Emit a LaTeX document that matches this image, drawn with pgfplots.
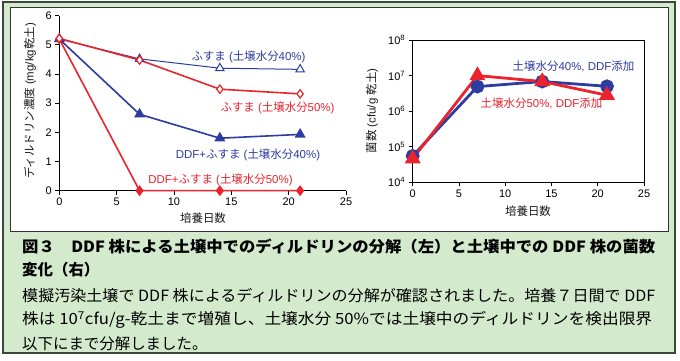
\documentclass[border=0pt]{standalone}
\usepackage{fontspec}
\setmainfont{Liberation Sans}
\newfontfamily\jpf{Noto Sans CJK JP}
\usepackage{graphicx}
\usepackage{pgfplots}
\pgfplotsset{compat=1.18}
\definecolor{cblue}{RGB}{45,60,160}
\definecolor{cred}{RGB}{235,35,45}
\definecolor{bggreen}{RGB}{212,234,204}
\definecolor{framec}{RGB}{60,72,60}
\newcommand\jp[1]{{\jpf #1}}
\begin{document}
\begin{tikzpicture}
\useasboundingbox (0bp,0bp) rectangle (680bp,361bp);
\fill[white] (0bp,0bp) rectangle (680bp,361bp);
\draw[framec, line width=1.5bp, fill=bggreen] (3bp,8bp) rectangle (675bp,359bp);
\draw[black!80, line width=1bp, fill=white] (10bp,129bp) rectangle (668bp,353bp);

% ---------- left chart ----------
\begin{axis}[at={(59.3bp,170.3bp)}, anchor=south west, scale only axis,
  width=286.7bp, height=175bp,
  xmin=0, xmax=25, ymin=0, ymax=6,
  xtick={0,5,10,15,20,25}, ytick={0,1,2,3,4,5,6},
  axis x line*=bottom, axis y line*=left,
  axis line style={line width=0.8bp, black},
  tick align=outside, major tick length=4bp,
  tick style={black, line width=0.8bp},
  ticklabel style={font=\fontsize{11}{12}\selectfont},
  /pgf/number format/assume math mode=true,
  clip=false]
\addplot[cblue, line width=1bp, mark=triangle*, mark size=4.8,
  mark options={fill=white, line width=1bp}]
  coordinates {(0,5.2)(7,4.52)(14,4.2)(21,4.16)};
\addplot[cblue, line width=1.6bp, mark=triangle*, mark size=4.8,
  mark options={fill=cblue}]
  coordinates {(0,5.2)(7,2.62)(14,1.8)(21,1.93)};
\addplot[cred, line width=1.6bp, mark=diamond*, mark size=4.2,
  mark options={fill=cred}]
  coordinates {(0,5.2)(7,0)(14,0)(21,0)};
\addplot[cred, line width=1.6bp, mark=diamond*, mark size=4.2,
  mark options={fill=white, line width=1.2bp}]
  coordinates {(0,5.22)(7,4.48)(14,3.48)(21,3.32)};
\end{axis}

% ---------- right chart ----------
\begin{axis}[at={(412.7bp,178.7bp)}, anchor=south west, scale only axis,
  width=231.3bp, height=142.3bp,
  ymode=log, xmin=0, xmax=25, ymin=1e4, ymax=1e8,
  xtick={0,5,10,15,20,25},
  ytick={1e4,1e5,1e6,1e7,1e8},
  yticklabels={10\textsuperscript{4},10\textsuperscript{5},10\textsuperscript{6},10\textsuperscript{7},10\textsuperscript{8}},
  yminorticks=false, xtick pos=left, ytick pos=left,
  axis line style={line width=0.8bp, black},
  tick align=outside, major tick length=4bp,
  tick style={black, line width=0.8bp},
  ticklabel style={font=\fontsize{11}{12}\selectfont},
  /pgf/number format/assume math mode=true,
  clip=false]
\addplot[cblue, line width=2.8bp, mark=*, mark size=5.5]
  coordinates {(0,5.5e4)(7,4.9e6)(14,6.8e6)(21,5e6)};
\addplot[cred, line width=2.8bp, mark=triangle*, mark size=6.5]
  coordinates {(0,4.6e4)(7,1e7)(14,6.8e6)(21,2.8e6)};
\end{axis}

% ---------- chart texts ----------
\begin{scope}[every node/.style={font=\fontsize{11.5}{12}\selectfont, inner sep=0}]
\node[cblue] at (248.5bp,304bp) {\jp{ふすま} (\jp{土壌水分}40\%)};
\node[cred] at (277.5bp,253bp) {\jp{ふすま} (\jp{土壌水分}50\%)};
\node[cblue] at (248bp,206bp) {DDF+\jp{ふすま} (\jp{土壌水分}40\%)};
\node[cred] at (220.5bp,181bp) {DDF+\jp{ふすま} (\jp{土壌水分}50\%)};
\node[cblue] at (573.5bp,295bp) {\jp{土壌水分}40\%, DDF\jp{添加}};
\node[cred] at (541.5bp,258bp) {\jp{土壌水分}50\%, DDF\jp{添加}};
\end{scope}
\begin{scope}[every node/.style={font=\fontsize{11.5}{12}\selectfont, inner sep=0, black!90}]
\node[rotate=90] at (30bp,260bp) {\jp{ディルドリン濃度} (mg/kg\jp{乾土})};
\node[rotate=90] at (372bp,250bp) {\jp{菌数} (cfu/g \jp{乾土})};
\node at (203bp,143bp) {\jp{培養日数}};
\node at (528bp,150bp) {\jp{培養日数}};
\end{scope}

% ---------- caption ----------
\begin{scope}[every node/.style={anchor=west, inner sep=0, black}]
\node[font=\jpf\bfseries\fontsize{15.5}{16}\selectfont] at (22bp,114bp)
  {\resizebox{633bp}{\height}{図３　DDF 株による土壌中でのディルドリンの分解（左）と土壌中での DDF 株の菌数}};
\node[font=\jpf\bfseries\fontsize{15.5}{16}\selectfont] at (22bp,91bp) {変化（右）};
\node[font=\jpf\fontsize{15.5}{16}\selectfont] at (22bp,65bp)
  {\resizebox{633bp}{\height}{模擬汚染土壌で DDF 株によるディルドリンの分解が確認されました。培養７日間で DDF}};
\node[font=\jpf\fontsize{15.5}{16}\selectfont] at (22bp,41bp)
  {\resizebox{630bp}{\height}{株は 10\textsuperscript{7}cfu/g-乾土まで増殖し、土壌水分 50\%では土壌中のディルドリンを検出限界}};
\node[font=\jpf\fontsize{15.5}{16}\selectfont] at (22bp,17bp) {以下にまで分解しました。};
\end{scope}
\end{tikzpicture}
\end{document}
